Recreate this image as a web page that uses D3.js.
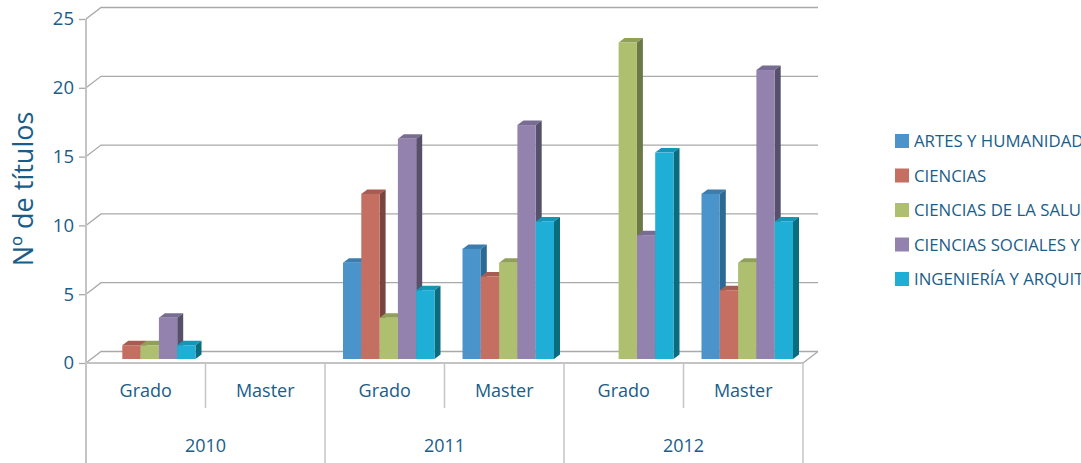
<!DOCTYPE html>
<html>
<head>
<meta charset="utf-8">
<script src="https://cdn.jsdelivr.net/npm/d3@7"></script>
<style>
  body { margin: 0; background: white; overflow: hidden; }
  svg { display: block; }
</style>
</head>
<body>
<svg id="chart"></svg>
<script>
// data
let years = ["2010", "2011", "2012"];
let levels = ["Grado", "Master"];
let series = ["ARTES Y HUMANIDADES", "CIENCIAS", "CIENCIAS DE LA SALUD",
              "CIENCIAS SOCIALES Y JURÍDICAS", "INGENIERÍA Y ARQUITECTURA"];
// one row per year/level, one value per series
let values = [
    [0, 1, 1, 3, 1],    // 2010 Grado
    [0, 0, 0, 0, 0],    // 2010 Master
    [7, 12, 3, 16, 5],  // 2011 Grado
    [8, 6, 7, 17, 10],  // 2011 Master
    [0, 0, 23, 9, 15],  // 2012 Grado
    [12, 5, 7, 21, 10]  // 2012 Master
];
let y_ticks = [0, 5, 10, 15, 20, 25];

let face_colors = ["#4a93cb", "#c56f63", "#afbf70", "#9282ad", "#1eaed6"];
let top_colors  = ["#3b7dae", "#a75c52", "#909f5a", "#786c93", "#1795b7"];
let side_colors = ["#2d6a93", "#7a453f", "#6a7945", "#56506b", "#0b6c7d"];

let font_family = "'Open Sans', sans-serif";
let text_color = "#1a5d88";
let grid_color = "#a9a9a9";
let axis_color = "#c4c4c4";

let width = 1081, height = 463;
let left = 86, right = 803, floor_y = 363;
let depth_x = 15, depth_y = -11.5;      // back wall offset
let bar_dx = 4, bar_dy = -4;            // bar front face offset
let side_dx = 6, side_dy = -4.5;        // bar thickness

let svg = d3.select("#chart")
    .attr("width", width)
    .attr("height", height);

let groups = [];
years.forEach(yr => levels.forEach(lv => groups.push(yr + "|" + lv)));

let x = d3.scaleBand().domain(groups).range([left, right]);
let x_year = d3.scaleBand().domain(years).range([left, right]);
let bar_w = 18.3;
let x_inner = d3.scaleBand().domain(series).range([-bar_w * 2.5, bar_w * 2.5]);
let y = d3.scaleLinear().domain([0, 25]).range([floor_y, 19]);

// back wall gridlines with diagonal on the left wall
y_ticks.forEach(t => {
    let yf = y(t);
    svg.append("path")
        .attr("d", "M" + left + "," + yf + "L" + (left + depth_x) + "," + (yf + depth_y) +
                   "L" + (right + depth_x) + "," + (yf + depth_y))
        .attr("fill", "none")
        .attr("stroke", grid_color)
        .attr("stroke-width", 1.3);
});

// floor right edge
svg.append("line")
    .attr("x1", right).attr("y1", floor_y)
    .attr("x2", right + depth_x).attr("y2", floor_y + depth_y)
    .attr("stroke", grid_color)
    .attr("stroke-width", 1.3);

// bars
groups.forEach((g, gi) => {
    let cx = x(g) + x.bandwidth() / 2 + bar_dx;
    series.forEach((s, si) => {
        let v = values[gi][si];
        if (v <= 0) return;
        let x0 = cx + x_inner(s);
        let x1 = x0 + x_inner.bandwidth();
        let yt = y(v) + bar_dy;
        let yb = y(0) + bar_dy;

        svg.append("path")
            .attr("d", "M" + x0 + "," + yt + "L" + (x0 + side_dx) + "," + (yt + side_dy) +
                       "L" + (x1 + side_dx) + "," + (yt + side_dy) + "L" + x1 + "," + yt + "Z")
            .attr("fill", top_colors[si]);

        svg.append("path")
            .attr("d", "M" + x1 + "," + yt + "L" + (x1 + side_dx) + "," + (yt + side_dy) +
                       "L" + (x1 + side_dx) + "," + (yb + side_dy) + "L" + x1 + "," + yb + "Z")
            .attr("fill", side_colors[si]);

        svg.append("rect")
            .attr("x", x0)
            .attr("y", yt)
            .attr("width", x1 - x0)
            .attr("height", yb - yt)
            .attr("fill", face_colors[si]);
    });
});

// value axis
let y_axis = svg.append("g")
    .attr("transform", "translate(" + left + ",0)")
    .call(d3.axisLeft(y).tickValues(y_ticks).tickSize(7).tickPadding(5));
y_axis.select(".domain").remove();
y_axis.selectAll(".tick line").attr("stroke", grid_color).attr("stroke-width", 1.3);
y_axis.selectAll(".tick text")
    .attr("fill", text_color)
    .attr("font-family", font_family)
    .attr("font-size", "18.5px");

// front left line, runs down through the category table
svg.append("line")
    .attr("x1", left).attr("y1", y(25))
    .attr("x2", left).attr("y2", height)
    .attr("stroke", axis_color)
    .attr("stroke-width", 2);

// floor front edge
svg.append("line")
    .attr("x1", left).attr("y1", floor_y)
    .attr("x2", right).attr("y2", floor_y)
    .attr("stroke", axis_color)
    .attr("stroke-width", 2);

// category table: level dividers and year dividers
groups.forEach((g, gi) => {
    if (gi % 2 === 0) {
        svg.append("line")
            .attr("x1", x(g) + x.bandwidth()).attr("y1", floor_y)
            .attr("x2", x(g) + x.bandwidth()).attr("y2", 408)
            .attr("stroke", axis_color)
            .attr("stroke-width", 1.5);
    }
    svg.append("text")
        .attr("x", x(g) + x.bandwidth() / 2)
        .attr("y", 397)
        .attr("text-anchor", "middle")
        .attr("font-family", font_family)
        .attr("font-size", "18px")
        .attr("fill", text_color)
        .text(g.split("|")[1]);
});

years.forEach(yr => {
    svg.append("line")
        .attr("x1", x_year(yr) + x_year.bandwidth()).attr("y1", floor_y)
        .attr("x2", x_year(yr) + x_year.bandwidth()).attr("y2", height)
        .attr("stroke", axis_color)
        .attr("stroke-width", 1.5);
    svg.append("text")
        .attr("x", x_year(yr) + x_year.bandwidth() / 2)
        .attr("y", 452)
        .attr("text-anchor", "middle")
        .attr("font-family", font_family)
        .attr("font-size", "18px")
        .attr("fill", text_color)
        .text(yr);
});

// axis title
svg.append("text")
    .attr("transform", "translate(33,189) rotate(-90)")
    .attr("text-anchor", "middle")
    .attr("font-family", font_family)
    .attr("font-size", "27px")
    .attr("fill", text_color)
    .text("Nº de títulos");

// legend (runs past the right edge, as in the original)
let legend = svg.append("g").attr("transform", "translate(895,141)");
series.forEach((s, si) => {
    let row = legend.append("g").attr("transform", "translate(0," + (si * 34.5) + ")");
    row.append("rect")
        .attr("x", 0).attr("y", -7)
        .attr("width", 14).attr("height", 14)
        .attr("fill", face_colors[si]);
    row.append("text")
        .attr("x", 19)
        .attr("y", 0)
        .attr("dy", "0.36em")
        .attr("font-family", font_family)
        .attr("font-size", "16.8px")
        .attr("fill", text_color)
        .text(s);
});
</script>
</body>
</html>
